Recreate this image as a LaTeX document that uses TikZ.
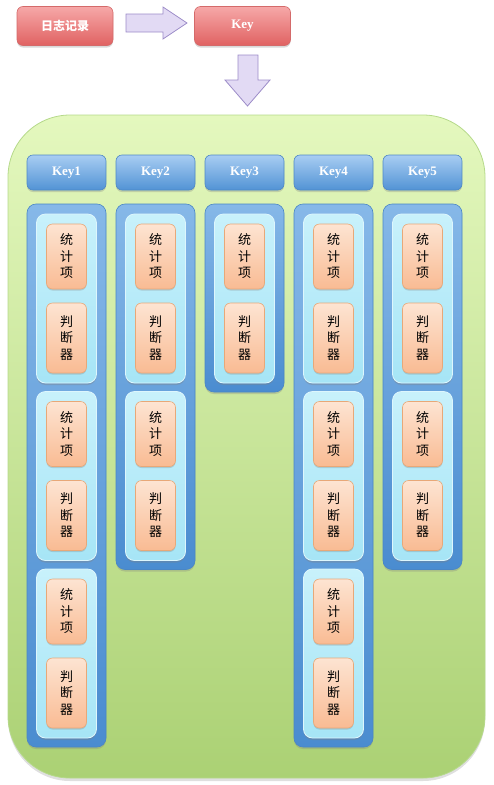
\documentclass[tikz,border=0pt]{standalone}
\usepackage{fontspec}
\setmainfont{Liberation Serif}
\newfontfamily\cjk{Noto Sans CJK SC}
\usetikzlibrary{shadows}
\definecolor{redtop}{HTML}{F6A8A8}
\definecolor{redbot}{HTML}{E06262}
\definecolor{redline}{HTML}{D46A6A}
\definecolor{arrfill}{HTML}{E2DAF4}
\definecolor{arrline}{HTML}{9C8CC8}
\definecolor{greentop}{HTML}{E4F8BE}
\definecolor{greenbot}{HTML}{ABD174}
\definecolor{greenline}{HTML}{B5D98A}
\definecolor{keytop}{HTML}{A8CDF2}
\definecolor{keybot}{HTML}{5293D5}
\definecolor{keyline}{HTML}{4E88C6}
\definecolor{coltop}{HTML}{86B8E8}
\definecolor{colbot}{HTML}{4A8CD0}
\definecolor{colline}{HTML}{4A86C5}
\definecolor{grptop}{HTML}{C8F1FB}
\definecolor{grpbot}{HTML}{A6E5F6}
\definecolor{grpline}{HTML}{DDF6FD}
\definecolor{ortop}{HTML}{FDE4D2}
\definecolor{orbot}{HTML}{F9BB93}
\definecolor{orline}{HTML}{E8A878}
\begin{document}
\begin{tikzpicture}[x=1pt,y=-1pt,
  shad/.style={drop shadow={shadow xshift=0pt,shadow yshift=-2pt,opacity=0.3}},
  redbox/.style={draw=redline,line width=0.6pt,rounded corners=6pt,top color=redtop,bottom color=redbot,
    minimum width=96pt,minimum height=39pt,inner sep=0pt,text=white,shad},
  blockarrow/.style={draw=arrline,line width=0.8pt,fill=arrfill},
  bigbox/.style={draw=greenline,line width=0.8pt,rounded corners=62pt,top color=greentop,bottom color=greenbot,
    drop shadow={shadow xshift=0pt,shadow yshift=-3pt,opacity=0.25}},
  keyhdr/.style={draw=keyline,line width=0.6pt,rounded corners=6pt,top color=keytop,bottom color=keybot,
    minimum width=79pt,minimum height=35pt,inner sep=0pt,text=white,font=\bfseries\fontsize{13}{15}\selectfont,shad},
  colbox/.style={draw=colline,line width=0.6pt,rounded corners=9pt,top color=coltop,bottom color=colbot,
    minimum width=79pt,inner sep=0pt,shad},
  grp/.style={draw=grpline,line width=0.8pt,rounded corners=9pt,top color=grptop,bottom color=grpbot,
    minimum width=60pt,minimum height=169pt,inner sep=0pt,
    drop shadow={shadow xshift=0pt,shadow yshift=-2pt,opacity=0.35}},
  orbox/.style={draw=orline,line width=0.6pt,rounded corners=6pt,top color=ortop,bottom color=orbot,
    minimum width=40pt,inner sep=0pt,align=center,font=\cjk\fontsize{13}{16.5}\selectfont,
    drop shadow={shadow xshift=0pt,shadow yshift=-1.5pt,opacity=0.3}},
  stat/.style={orbox,minimum height=65pt},
  judge/.style={orbox,minimum height=70pt}]
\useasboundingbox (0,0) rectangle (494,785);
% top row
\node[redbox,font=\cjk\bfseries\fontsize{12}{14}\selectfont] (log) at (65,26) {日志记录};
\node[redbox,font=\bfseries\fontsize{13}{15}\selectfont] (key) at (242.5,26) {Key};
\draw[blockarrow] (126,14) -- (163,14) -- (163,7) -- (187,23) -- (163,39) -- (163,32) -- (126,32) -- cycle;
\draw[blockarrow] (238,55) -- (258,55) -- (258,80) -- (270,80) -- (247.5,106) -- (225,80) -- (238,80) -- cycle;
% container
\path[bigbox] (8,115) rectangle (485,778);
\foreach \i/\n in {1/3,2/2,3/1,4/3,5/2} {
  \pgfmathsetmacro\cx{66.5+89*(\i-1)}
  \pgfmathsetmacro\bot{214+177.5*(\n-1)+169+9}
  \pgfmathsetmacro\h{\bot-204}
  \pgfmathsetmacro\cy{(204+\bot)/2}
  \node[keyhdr] (key\i) at (\cx,172.5) {Key\i};
  \node[colbox,minimum height=\h pt] (col\i) at (\cx,\cy) {};
  \foreach \k in {1,...,\n} {
    \pgfmathsetmacro\gy{214+177.5*(\k-1)}
    \node[grp] (g\i\k) at (\cx,\gy+84.5) {};
    \node[stat] (s\i\k) at (\cx,\gy+42.5) {统\\计\\项};
    \node[judge] (j\i\k) at (\cx,\gy+124) {判\\断\\器};
  }
}
\end{tikzpicture}
\end{document}
